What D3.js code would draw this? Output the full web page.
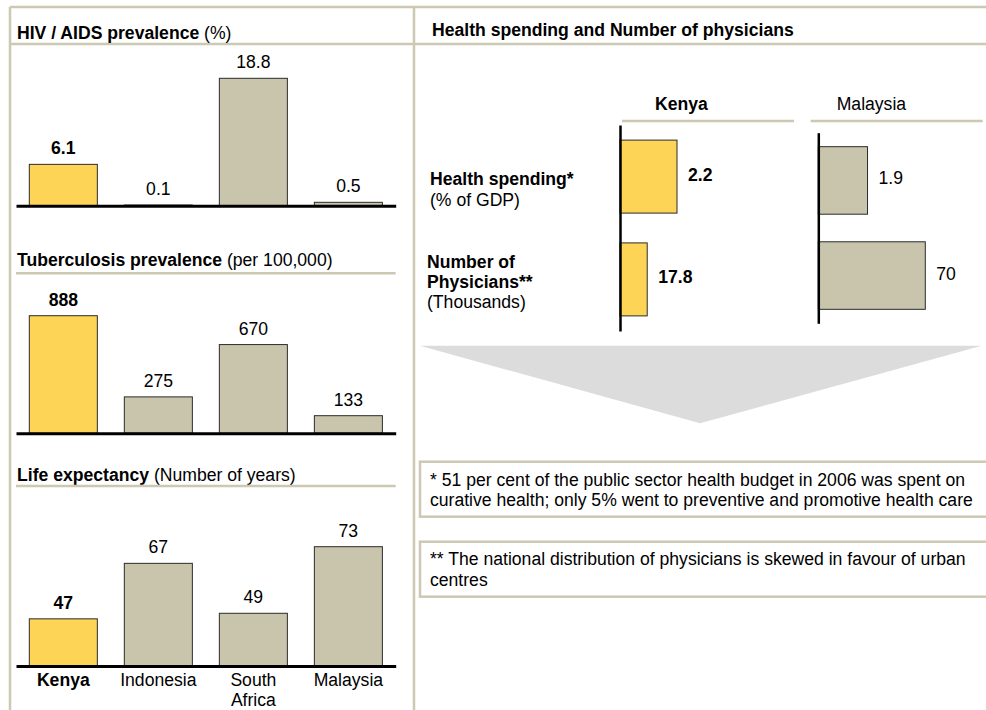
<!DOCTYPE html>
<html>
<head>
<meta charset="utf-8">
<script src="https://cdn.jsdelivr.net/npm/d3@7"></script>
<style>
  body { margin: 0; background: #fff; }
  svg { display: block; font-family: "Liberation Sans", Arial, Helvetica, sans-serif; }
</style>
</head>
<body>
<svg id="chart" width="986" height="710"></svg>
<script>
// ---- data ----
const countries = ["Kenya", "Indonesia", "South Africa", "Malaysia"];
const hivPrevalence = [6.1, 0.1, 18.8, 0.5];        // %
const tbPrevalence = [888, 275, 670, 133];          // per 100,000
const lifeExpectancy = [47, 67, 49, 73];            // years

const compareCountries = ["Kenya", "Malaysia"];
const compareMetrics = ["Health spending", "Number of physicians"];
const healthSpending = [2.2, 1.9];                  // % of GDP
const physicians = [17.8, 70];                      // thousands

const footnotes = [
  ["* 51 per cent of the public sector health budget in 2006 was spent on",
   "curative health; only 5% went to preventive and promotive health care"],
  ["** The national distribution of physicians is skewed in favour of urban",
   "centres"]
];

// ---- style ----
const YELLOW = "#fdd456", TAN = "#c9c5ad", RULE = "#ccc8b2", ARROW = "#dcdcdc";
const FS = 17.6;
const focus = "Kenya";

const svg = d3.select("#chart");

// ---- frame ----
const frame = svg.append("g").attr("stroke", RULE).attr("stroke-width", 2.5).attr("fill", "none");
frame.append("line").attr("x1", 10).attr("x2", 986).attr("y1", 7).attr("y2", 7);
frame.append("line").attr("x1", 10).attr("x2", 10).attr("y1", 7).attr("y2", 710);
frame.append("line").attr("x1", 414).attr("x2", 414).attr("y1", 7).attr("y2", 710);
frame.append("line").attr("x1", 10).attr("x2", 986).attr("y1", 44).attr("y2", 44);

function title(x, y, bold, rest) {
  const t = svg.append("text").attr("x", x).attr("y", y).attr("font-size", FS).attr("fill", "#000");
  t.append("tspan").attr("font-weight", "bold").text(bold);
  if (rest) t.append("tspan").text(" " + rest);
  return t;
}

// ---- left column: three vertical bar charts ----
const x = d3.scaleBand().domain(countries).range([16, 395.7])
  .paddingInner(0.284).paddingOuter(0.14);

const panels = [
  { name: "HIV / AIDS prevalence", unit: "(%)", values: hivPrevalence,
    titleY: 39, ruleY: null, y: d3.scaleLinear().domain([0, 18.8]).range([205.7, 78.3]), ticks: false },
  { name: "Tuberculosis prevalence", unit: "(per 100,000)", values: tbPrevalence,
    titleY: 266, ruleY: 273.3, y: d3.scaleLinear().domain([0, 888]).range([433.3, 315.7]), ticks: false },
  { name: "Life expectancy", unit: "(Number of years)", values: lifeExpectancy,
    titleY: 481, ruleY: 486, y: d3.scaleLinear().domain([30, 73]).range([666, 546.7]), ticks: true }
];

panels.forEach(p => {
  title(17, p.titleY, p.name, p.unit);
  if (p.ruleY !== null) {
    svg.append("line").attr("x1", 16).attr("x2", 395.7).attr("y1", p.ruleY).attr("y2", p.ruleY)
      .attr("stroke", RULE).attr("stroke-width", 2.5);
  }
  const base = p.y.range()[0];
  const g = svg.append("g");
  g.selectAll("rect").data(countries).join("rect")
    .attr("x", d => x(d))
    .attr("width", x.bandwidth())
    .attr("y", (d, i) => p.y(p.values[i]))
    .attr("height", (d, i) => base - p.y(p.values[i]))
    .attr("fill", d => d === focus ? YELLOW : TAN)
    .attr("stroke", "#2b2b2b").attr("stroke-width", 1);

  g.selectAll("text.val").data(countries).join("text")
    .attr("class", "val")
    .attr("x", d => x(d) + x.bandwidth() / 2)
    .attr("y", (d, i) => p.y(p.values[i]) - 10)
    .attr("text-anchor", "middle")
    .attr("font-size", FS)
    .attr("font-weight", d => d === focus ? "bold" : "normal")
    .text((d, i) => p.values[i]);

  const axis = g.append("g").attr("transform", `translate(0,${base})`)
    .call(d3.axisBottom(x).tickSize(0).tickPadding(0)
      .tickFormat(p.ticks ? (d => d) : () => ""));
  axis.select(".domain").attr("stroke", "#000").attr("stroke-width", 3);
  if (p.ticks) {
    axis.selectAll(".tick text").each(function (d) {
      const t = d3.select(this);
      t.text(null).attr("dy", null).attr("y", 20)
        .attr("font-size", FS).attr("font-family", null).attr("fill", "#000")
        .attr("font-weight", d === focus ? "bold" : "normal");
      d.split(" ").forEach((w, k) => {
        t.append("tspan").attr("x", 0).attr("dy", k === 0 ? 0 : 20).text(w);
      });
    });
  }
});

// ---- right column: health spending and physicians ----
title(432, 35.5, "Health spending and Number of physicians");

// row labels
const rowLabels = [
  [{ t: "Health spending*", b: true, y: 185 }, { t: "(% of GDP)", b: false, y: 206 }],
  [{ t: "Number of", b: true, y: 267.7 }, { t: "Physicians**", b: true, y: 287.7 }, { t: "(Thousands)", b: false, y: 307.7 }]
];
rowLabels.forEach((lines, r) => {
  lines.forEach(l => {
    svg.append("text").attr("x", r === 0 ? 430 : 427).attr("y", l.y)
      .attr("font-size", FS).attr("font-weight", l.b ? "bold" : "normal").text(l.t);
  });
});

const hsScale = d3.scaleLinear().domain([0, 2.2]).range([0, 57]);
const phScale = d3.scaleLinear().domain([0, 70]).range([0, 107]);

const columns = [
  { axisX: 620, y0: 125, y1: 331, headX: 655, ruleX0: 622, ruleX1: 794 },
  { axisX: 818.3, y0: 132.7, y1: 323.3, headX: 836.7, ruleX0: 810.7, ruleX1: 982.7 }
];

compareCountries.forEach((c, i) => {
  const col = columns[i];
  const isFocus = c === focus;
  svg.append("text").attr("x", col.headX).attr("y", 110).attr("font-size", FS)
    .attr("font-weight", isFocus ? "bold" : "normal").text(c);
  svg.append("line").attr("x1", col.ruleX0).attr("x2", col.ruleX1).attr("y1", 121).attr("y2", 121)
    .attr("stroke", RULE).attr("stroke-width", 2.5);

  const yb = d3.scaleBand().domain(compareMetrics).range([col.y0, col.y1])
    .paddingInner(0.29).paddingOuter(0.147);
  const vals = [
    { m: compareMetrics[0], v: healthSpending[i], w: hsScale(healthSpending[i]) },
    { m: compareMetrics[1], v: physicians[i], w: phScale(physicians[i]) }
  ];
  const g = svg.append("g");
  g.selectAll("rect").data(vals).join("rect")
    .attr("x", col.axisX)
    .attr("y", d => yb(d.m))
    .attr("width", d => d.w)
    .attr("height", yb.bandwidth())
    .attr("fill", isFocus ? YELLOW : TAN)
    .attr("stroke", "#2b2b2b").attr("stroke-width", 1);
  g.selectAll("text").data(vals).join("text")
    .attr("x", d => col.axisX + d.w + 11)
    .attr("y", d => yb(d.m) + yb.bandwidth() / 2 + 4)
    .attr("font-size", FS)
    .attr("font-weight", isFocus ? "bold" : "normal")
    .text(d => d.v);
  const ax = g.append("g").attr("transform", `translate(${col.axisX},0)`)
    .call(d3.axisLeft(yb).tickSize(0).tickFormat(() => ""));
  ax.select(".domain").attr("stroke", "#000").attr("stroke-width", 2.5);
});

// downward arrow
svg.append("path")
  .attr("d", d3.line()([[420, 345.7], [981.7, 345.7], [700, 423.3]]) + "Z")
  .attr("fill", ARROW);

// footnote boxes
const boxes = [{ y: 461.7, h: 55, lines: [486, 506] }, { y: 541.7, h: 55, lines: [564.5, 586] }];
footnotes.forEach((lines, i) => {
  const b = boxes[i];
  svg.append("rect").attr("x", 420).attr("y", b.y).attr("width", 575).attr("height", b.h)
    .attr("fill", "none").attr("stroke", RULE).attr("stroke-width", 2.5);
  lines.forEach((l, k) => {
    svg.append("text").attr("x", 430).attr("y", b.lines[k]).attr("font-size", FS).text(l);
  });
});
</script>
</body>
</html>
